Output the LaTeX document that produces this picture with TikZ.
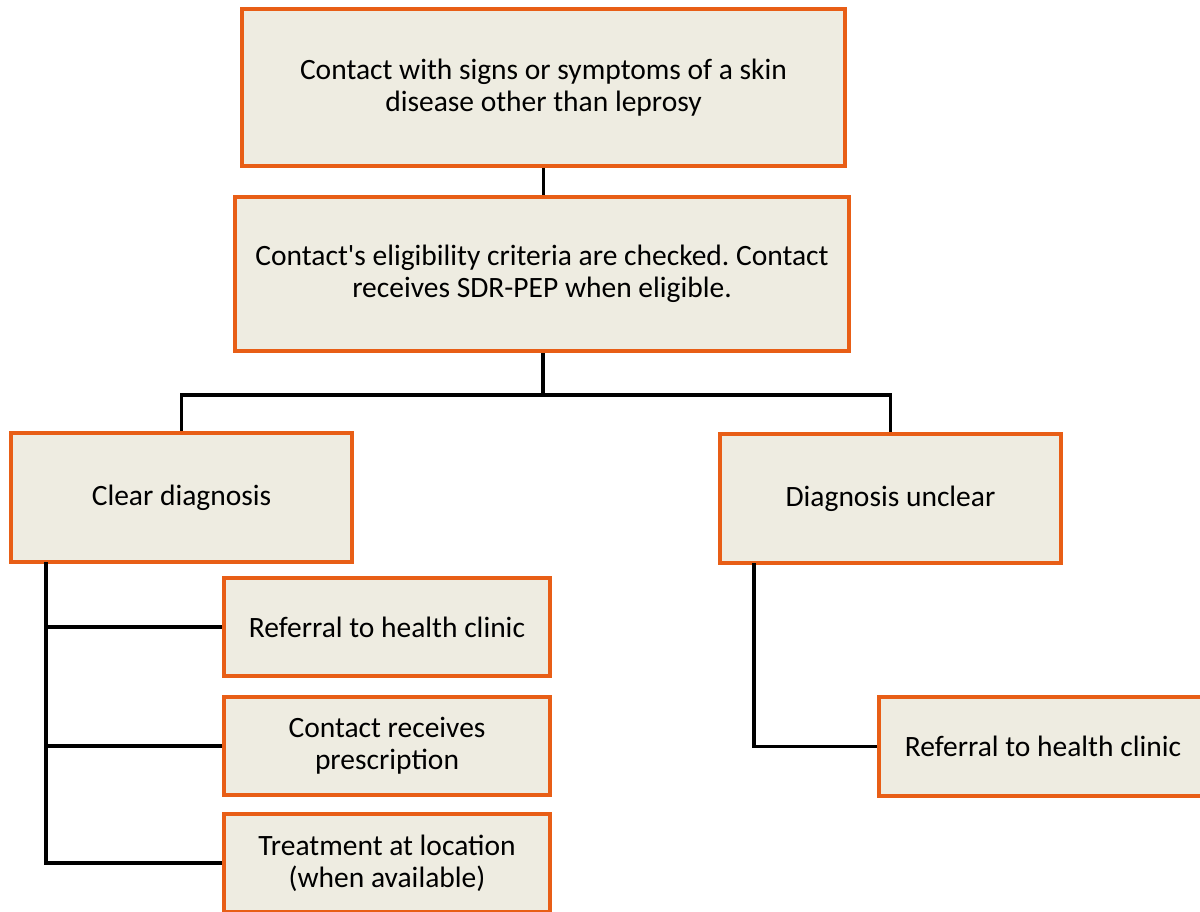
\documentclass[tikz,border=0pt]{standalone}
\usepackage{fontspec}
\setmainfont{Carlito}[Ligatures=TeXOff]
\frenchspacing
\definecolor{boxfill}{RGB}{238,236,225}
\definecolor{boxline}{RGB}{232,94,22}
\begin{document}
\begin{tikzpicture}[x=1pt,y=-1pt,
  box/.style={draw=boxline,fill=boxfill,line width=3.5pt,rectangle,inner sep=0pt,
    align=center,font=\fontsize{29.5}{32}\selectfont},
  conn/.style={draw=black,line width=3.5pt}]
\useasboundingbox (0,0) rectangle (1200,911);
\begin{scope}
\clip (0,0) rectangle (1200,911);
\node[box,minimum width=603pt,minimum height=157pt] (top) at (543.5,87.5)
  {Contact with signs or symptoms of a skin\\disease other than leprosy};
\node[box,minimum width=614pt,minimum height=154pt] (elig) at (542,274)
  {Contact's eligibility criteria are checked. Contact\\receives SDR-PEP when eligible.};
\node[box,minimum width=341pt,minimum height=129pt] (clear) at (181.5,497.5)
  {Clear diagnosis};
\node[box,minimum width=341pt,minimum height=129pt] (unclear) at (890.5,498.5)
  {Diagnosis unclear};
\node[box,minimum width=326pt,minimum height=98pt] (ref1) at (387,627)
  {Referral to health clinic};
\node[box,minimum width=326pt,minimum height=98pt] (presc) at (387,746)
  {Contact receives\\prescription};
\node[box,minimum width=326pt,minimum height=98pt] (treat) at (387,863)
  {Treatment at location\\(when available)};
\node[box,minimum width=328pt,minimum height=99pt] (ref2) at (1043,746.5)
  {Referral to health clinic};
\end{scope}
\coordinate (j) at (543,395);
\coordinate (a) at (46,562);
\coordinate (b) at (754,563);
\draw[conn] (top.south) -- (top.south |- elig.north);
\draw[conn] (elig.south -| j) -- (j);
\draw[conn] (j) -| (clear.north);
\draw[conn] (j) -| (unclear.north);
\draw[conn] (a) |- (ref1.west);
\draw[conn] (a) |- (presc.west);
\draw[conn] (a) |- (treat.west);
\draw[conn] (b) |- (ref2.west);
\end{tikzpicture}
\end{document}
